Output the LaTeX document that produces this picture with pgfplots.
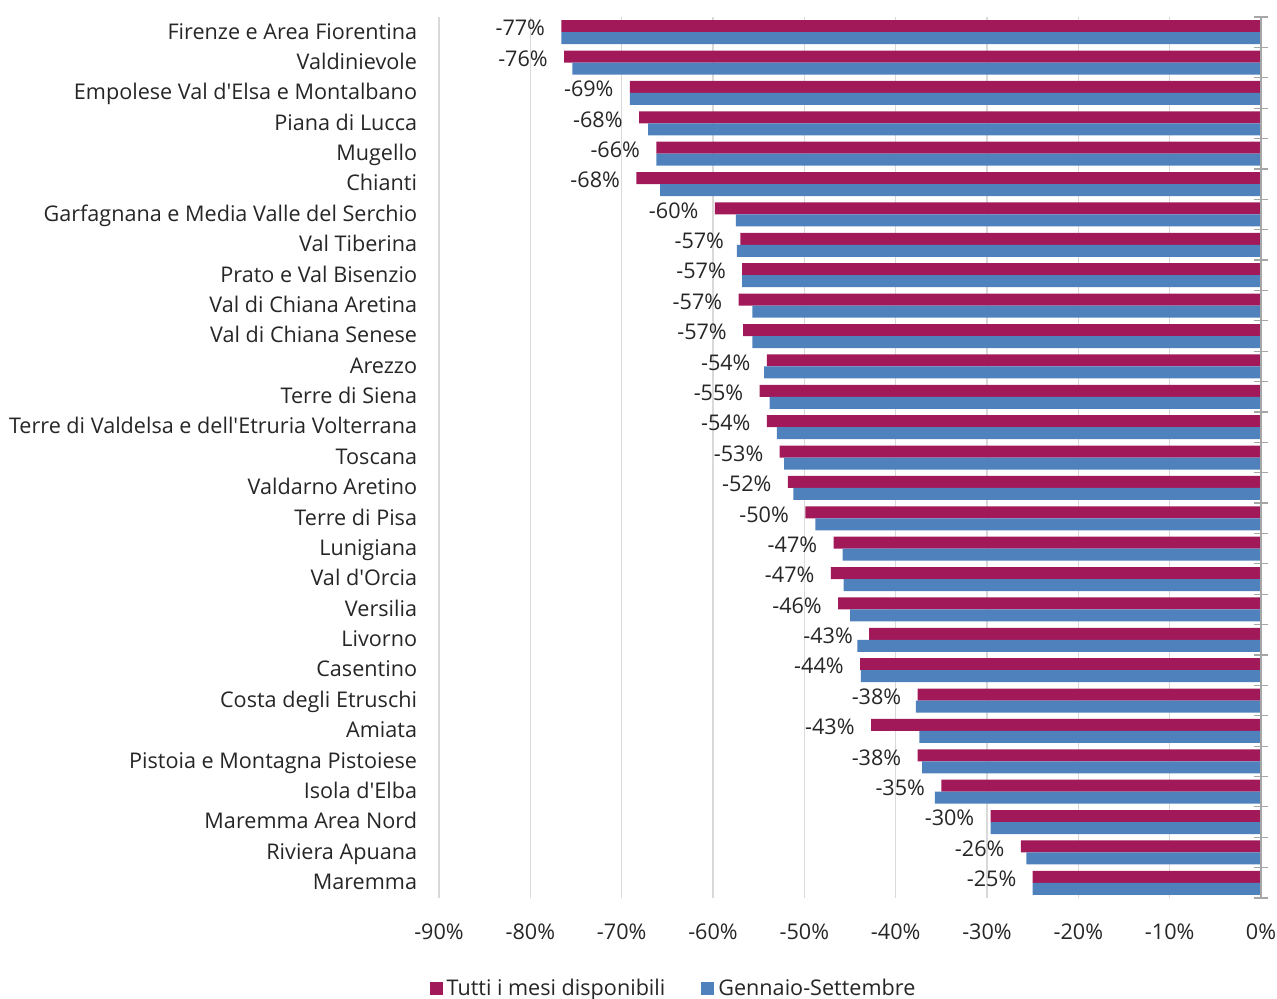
\documentclass[border=0pt]{standalone}
\usepackage{pgfplots}
\pgfplotsset{compat=1.18}
\usepackage{pgfplotstable}
\usepackage{fontspec}
\setmainfont{Open Sans}
\definecolor{tutti}{RGB}{162,25,89}
\definecolor{gensett}{RGB}{79,129,189}
\definecolor{gridc}{RGB}{217,217,217}
\definecolor{axisc}{RGB}{166,166,166}
\definecolor{txt}{RGB}{38,38,38}
\newcommand{\fs}{\fontsize{10.8}{13}\selectfont}

% idx: 0 = top row; tutti = tutti i mesi disponibili; gs = gennaio-settembre
\pgfplotstableread{
idx tutti gs lab
0 -76.6 -76.6 -77
1 -76.3 -75.4 -76
2 -69.1 -69.1 -69
3 -68.1 -67.1 -68
4 -66.2 -66.2 -66
5 -68.4 -65.8 -68
6 -59.8 -57.5 -60
7 -57.0 -57.4 -57
8 -56.8 -56.8 -57
9 -57.2 -55.7 -57
10 -56.7 -55.7 -57
11 -54.1 -54.4 -54
12 -54.9 -53.8 -55
13 -54.1 -53.0 -54
14 -52.7 -52.2 -53
15 -51.8 -51.2 -52
16 -49.9 -48.8 -50
17 -46.8 -45.8 -47
18 -47.1 -45.7 -47
19 -46.3 -45.0 -46
20 -42.9 -44.2 -43
21 -43.9 -43.8 -44
22 -37.6 -37.8 -38
23 -42.7 -37.4 -43
24 -37.6 -37.1 -38
25 -35.0 -35.7 -35
26 -29.6 -29.6 -30
27 -26.3 -25.7 -26
28 -25.0 -25.0 -25
}\data

\begin{document}
\begin{tikzpicture}
\useasboundingbox (-219.5pt,-50pt) rectangle (419pt,449pt);
\begin{axis}[
    at={(0,0)}, anchor=south west,
    scale only axis, width=411pt, height=440.5pt,
    xbar, bar width=6pt,
    y dir=reverse,
    xmin=-90, xmax=0, ymin=-0.5, ymax=28.5,
    clip=false,
    axis line style={draw=none},
    tick style={draw=none},
    xmajorgrids, grid style={gridc, line width=0.6pt},
    xtick={-90,-80,...,0},
    xticklabel={\pgfmathtruncatemacro\v{\tick}\v\%},
    xticklabel style={font=\fs, text=txt, yshift=-9.5pt},
    ytick={0,...,28},
    yticklabels={Firenze e Area Fiorentina, Valdinievole, Empolese Val d\textquotesingle Elsa e Montalbano,
        Piana di Lucca, Mugello, Chianti, Garfagnana e Media Valle del Serchio, Val Tiberina,
        Prato e Val Bisenzio, Val di Chiana Aretina, Val di Chiana Senese, Arezzo,
        Terre di Siena, Terre di Valdelsa e dell\textquotesingle Etruria Volterrana, Toscana, Valdarno Aretino,
        Terre di Pisa, Lunigiana, Val d\textquotesingle Orcia, Versilia, Livorno, Casentino,
        Costa degli Etruschi, Amiata, Pistoia e Montagna Pistoiese, Isola d\textquotesingle Elba,
        Maremma Area Nord, Riviera Apuana, Maremma},
    yticklabel style={font=\fs, text=txt, inner sep=0pt, anchor=base east, xshift=-6.5pt, yshift=-3.4pt},
    legend style={at={(axis description cs:0.2865,-0.103)}, anchor=center, draw=none,
        font=\fs, text=txt,
        /tikz/every even column/.append style={column sep=16pt}},
    legend columns=2,
    legend image code/.code={\fill[#1] (0pt,-3.25pt) rectangle (6.5pt,3.25pt);},
]
\addplot[fill=tutti, draw=none, bar shift=3pt,
    point meta=explicit symbolic,
    nodes near coords={\pgfplotspointmeta\%},
    nodes near coords style={anchor=east, inner sep=0pt, xshift=-8pt, yshift=-1pt,
        font=\fs, text=txt}]
    table[x=tutti, y=idx, meta=lab]{\data};
\addlegendentry{Tutti i mesi disponibili}
\addplot[fill=gensett, draw=none, bar shift=-3pt]
    table[x=gs, y=idx]{\data};
\addlegendentry{Gennaio-Settembre}
\draw[axisc, line width=0.75pt] (axis cs:0,-0.5) -- (axis cs:0,28.5);
\pgfplotsinvokeforeach{-0.5,0.5,...,28.5}{
    \draw[axisc, line width=0.6pt] ([xshift=-3.5pt]axis cs:0,#1) -- ([xshift=3.5pt]axis cs:0,#1);
}
\end{axis}
\end{tikzpicture}
\end{document}
